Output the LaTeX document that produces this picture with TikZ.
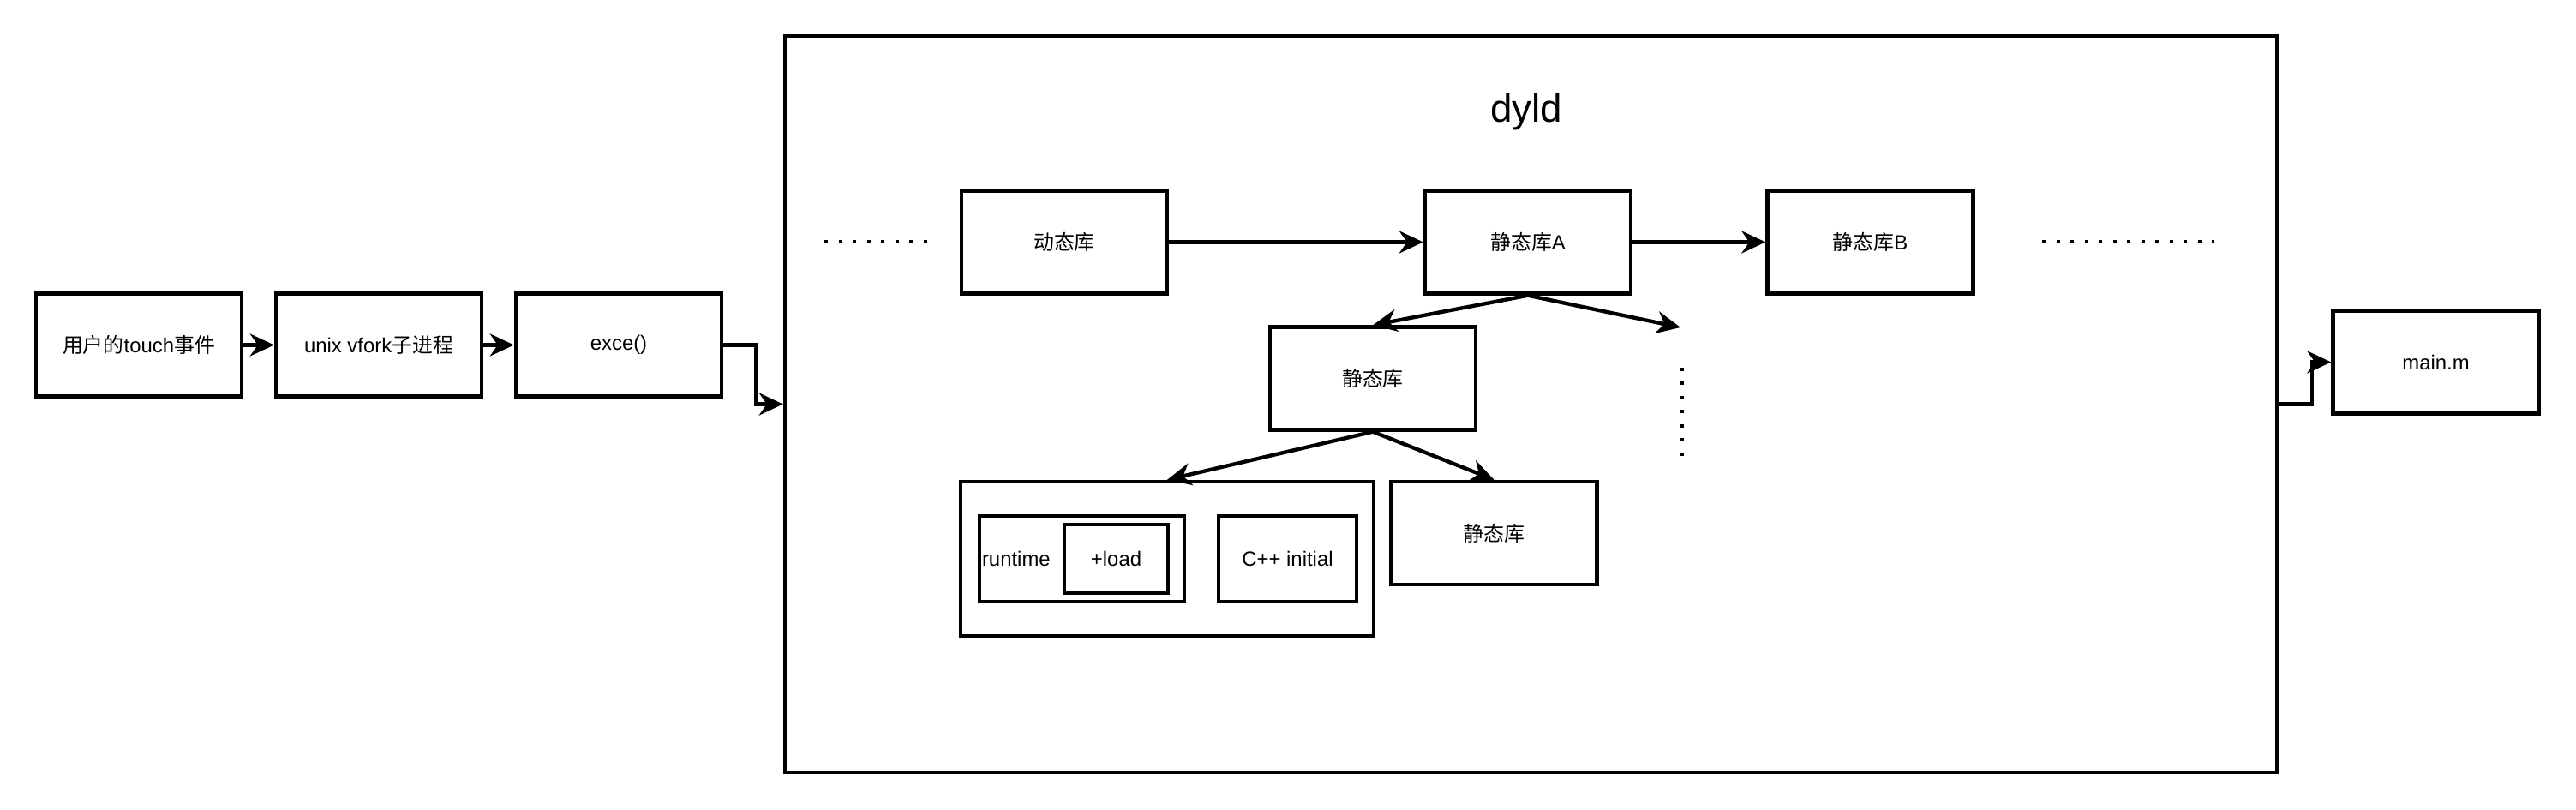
\documentclass[tikz,border=0pt]{standalone}
\usepackage{fontspec}
\setmainfont{Liberation Sans}
\newfontfamily\cjk{Noto Sans CJK SC}
\usetikzlibrary{arrows.meta,positioning}
\tikzset{%
  >={Stealth[length=2.8mm,width=2.6mm,inset=0.9mm]},
  % Specifications for style of nodes:
        base/.style = {rectangle, draw=black, line width=1.25pt,
                       minimum width=2.4cm, minimum height=1.2cm,
                       inner sep=0pt, text centered,
                       font=\fontsize{6.8}{8}\selectfont},
     process/.style = {base},
     library/.style = {base},
    innerbox/.style = {base, minimum height=1cm},
   dotrow/.style = {line width=0.4mm, dash pattern=on 0.4mm off 1.25mm},
}

\begin{document}
\begin{tikzpicture}[line width=1.25pt]
  \useasboundingbox (0,0) rectangle (30.06,9.44);
  % Specification of nodes (position, etc.)
  \node (touchEvent)   [process] at (1.62,5.415)  {{\cjk 用户的}touch{\cjk 事件}};
  \node (vforkProc)    [process] at (4.42,5.415)  {unix vfork{\cjk 子进程}};
  \node (exceCall)     [process] at (7.22,5.415)  {exce()};

  \node (dyldBox)      [base, minimum width=17.41cm, minimum height=8.59cm] at (17.865,4.725) {};
  \node (dyldTitle)    [font=\fontsize{13}{15}\selectfont] at (17.81,8.13) {dyld};

  \node (dynLib)       [library] at (12.42,6.615)  {{\cjk 动态库}};
  \node (staticA)      [library] at (17.83,6.615)  {{\cjk 静态库}A};
  \node (staticB)      [library] at (21.825,6.615) {{\cjk 静态库}B};
  \node (staticMid)    [library] at (16.02,5.025)  {{\cjk 静态库}};
  \node (staticLow)    [library] at (17.435,3.22)  {{\cjk 静态库}};

  \node (initBox)      [base, minimum width=4.82cm, minimum height=1.8cm] at (13.62,2.92) {};
  \node (runtimeBox)   [innerbox, minimum width=2.39cm] at (12.625,2.92) {};
  \node (runtimeText)  [font=\fontsize{6.8}{8}\selectfont, anchor=west, inner sep=0.3mm]
                       at (runtimeBox.west) {runtime};
  \node (loadBox)      [innerbox, minimum width=1.21cm, minimum height=0.8cm] at (13.025,2.92) {+load};
  \node (cppInit)      [innerbox, minimum width=1.61cm] at (15.025,2.92) {C++ initial};

  \node (mainFile)     [process] at (28.425,5.215) {main.m};

  \coordinate (moreLibs) at (19.61,5.62);

  % Specification of lines between nodes specified above
  \draw[->]   (touchEvent) -- (vforkProc);
  \draw[->]    (vforkProc) -- (exceCall);
  \draw[->] (exceCall.east) -- ++(0.38,0) |- (dyldBox.west);
  \draw[->]  (dyldBox.east) -- ++(0.39,0) |- (mainFile.west);

  \draw[->]       (dynLib) -- (staticA);
  \draw[->]      (staticA) -- (staticB);
  \draw[->] (staticA.south) -- (staticMid.north);
  \draw[->] (staticA.south) -- (moreLibs);
  \draw[->] (staticMid.south) -- (initBox.north);
  \draw[->] (staticMid.south) -- (staticLow.north);

  % dotted placeholders
  \draw[dotrow] (9.62,6.62) -- (10.83,6.62);
  \draw[dotrow] (23.83,6.62) -- (25.84,6.62);
  \draw[dotrow] (19.63,5.15) -- (19.63,4.01);
\end{tikzpicture}
\end{document}
